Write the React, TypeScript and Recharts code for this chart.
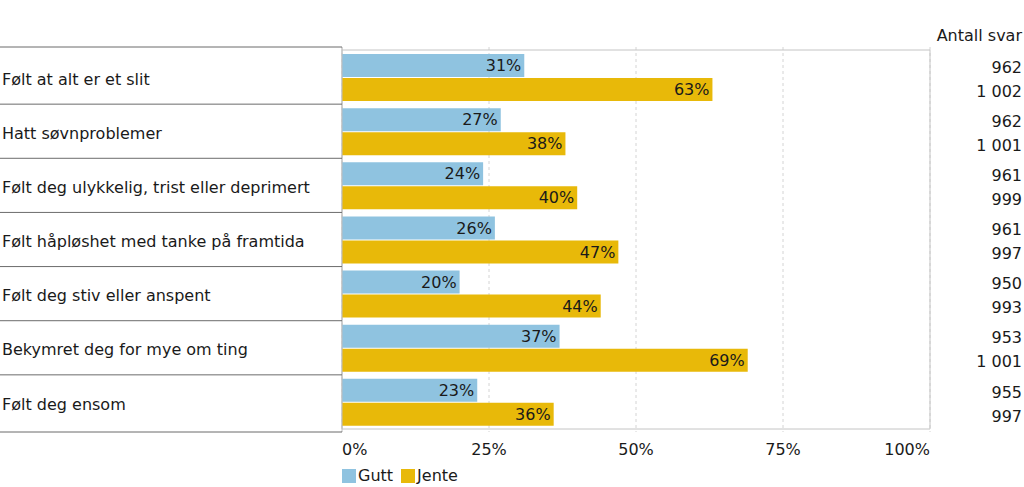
import {
  Bar,
  BarChart,
  CartesianGrid,
  LabelList,
  ReferenceArea,
  XAxis,
  YAxis,
} from "recharts";

const categories = [
  "Følt at alt er et slit",
  "Hatt søvnproblemer",
  "Følt deg ulykkelig, trist eller deprimert",
  "Følt håpløshet med tanke på framtida",
  "Følt deg stiv eller anspent",
  "Bekymret deg for mye om ting",
  "Følt deg ensom",
];
const gutt = [31, 27, 24, 26, 20, 37, 23];
const jente = [63, 38, 40, 47, 44, 69, 36];
const guttSvar = [962, 962, 961, 961, 950, 953, 955];
const jenteSvar = [1002, 1001, 999, 997, 993, 1001, 997];
const xTicks = [0, 25, 50, 75, 100];

const FONT = "'DejaVu Sans', Verdana, sans-serif";
const TEXT = "#1a1a1a";
const BLUE = "#8fc3e0";
const YELLOW = "#e8b909";

const W = 1024;
const H = 487;
const TOP = 47;
const BOTTOM = 55;
const LEFT_W = 342;
const RIGHT_W = 94;
const PAD = 3;
const BAND = (H - TOP - BOTTOM - 2 * PAD) / categories.length;

const data = categories.map((label, i) => ({
  label,
  gutt: gutt[i],
  jente: jente[i],
  guttSvar: guttSvar[i],
  jenteSvar: jenteSvar[i],
}));

const legendItems = [
  { name: "Gutt", color: BLUE },
  { name: "Jente", color: YELLOW },
];

function fmtCount(n: number): string {
  return String(n).replace(/\B(?=(\d{3})+(?!\d))/g, " ");
}

function LeftTick(props: any) {
  const { y, payload, index } = props;
  const n = categories.length;
  const top = index === 0 ? y - BAND / 2 - PAD : null;
  const bottom = index === n - 1 ? y + BAND / 2 + PAD : y + BAND / 2;
  return (
    <g>
      {top !== null && <line x1={0} x2={LEFT_W} y1={top} y2={top} stroke="#6b6b6b" />}
      <line x1={0} x2={LEFT_W} y1={bottom} y2={bottom} stroke="#6b6b6b" />
      <text x={2} y={y + 2} dy="0.35em" fontSize={16} fill={TEXT} fontFamily={FONT}>
        {payload.value}
      </text>
    </g>
  );
}

function RightTick(props: any) {
  const { y, index } = props;
  const row = data[index];
  return (
    <g fontSize={16} fill={TEXT} fontFamily={FONT} textAnchor="end">
      <text x={W - 2} y={y - 10} dy="0.35em">
        {fmtCount(row.guttSvar)}
      </text>
      <text x={W - 2} y={y + 14} dy="0.35em">
        {fmtCount(row.jenteSvar)}
      </text>
    </g>
  );
}

function XTick(props: any) {
  const { x, y, payload, index } = props;
  const anchor = index === 0 ? "start" : index === xTicks.length - 1 ? "end" : "middle";
  return (
    <text x={x} y={y + 4} dy="0.71em" textAnchor={anchor} fontSize={16} fill={TEXT} fontFamily={FONT}>
      {`${payload.value}%`}
    </text>
  );
}

export default function App() {
  return (
    <div style={{ position: "absolute", left: 0, top: 0, width: W, height: H, background: "#fff" }}>
      <div
        style={{
          position: "absolute",
          right: 2,
          top: 26,
          fontFamily: FONT,
          fontSize: 16,
          color: TEXT,
        }}
      >
        Antall svar
      </div>
      <div
        style={{
          position: "absolute",
          left: 342,
          top: 466,
          display: "flex",
          gap: 8,
          fontFamily: FONT,
          fontSize: 16,
          color: TEXT,
          zIndex: 1,
        }}
      >
        {legendItems.map((it) => (
          <div key={it.name} style={{ display: "flex", alignItems: "center", gap: 2 }}>
            <span style={{ width: 14, height: 14, background: it.color, display: "inline-block" }} />
            <span>{it.name}</span>
          </div>
        ))}
      </div>
      <BarChart
        width={W}
        height={H}
        data={data}
        layout="vertical"
        margin={{ top: TOP, right: 0, bottom: 0, left: 0 }}
        barSize={23}
        barGap={1}
      >
        <CartesianGrid horizontal={false} strokeDasharray="3 3" stroke="#d4d4d4" />
        <XAxis
          type="number"
          domain={[0, 100]}
          ticks={xTicks}
          axisLine={false}
          tickLine={false}
          tick={<XTick />}
          height={BOTTOM}
        />
        <YAxis
          yAxisId="left"
          type="category"
          dataKey="label"
          width={LEFT_W}
          interval={0}
          padding={{ top: PAD, bottom: PAD }}
          axisLine={{ stroke: "#bdbdbd" }}
          tickLine={false}
          tick={<LeftTick />}
        />
        <YAxis
          yAxisId="right"
          orientation="right"
          type="category"
          dataKey="label"
          width={RIGHT_W}
          interval={0}
          padding={{ top: PAD, bottom: PAD }}
          axisLine={false}
          tickLine={false}
          tick={<RightTick />}
        />
        <ReferenceArea
          yAxisId="left"
          x1={0}
          x2={100}
          fill="none"
          stroke="#c4c4c4"
          ifOverflow="visible"
        />
        <Bar yAxisId="left" dataKey="gutt" name="Gutt" fill={BLUE} isAnimationActive={false}>
          <LabelList
            dataKey="gutt"
            position="insideRight"
            offset={3}
            formatter={(v: any) => `${v}%`}
            style={{ fontSize: 16, fill: TEXT, fontFamily: FONT }}
          />
        </Bar>
        <Bar yAxisId="left" dataKey="jente" name="Jente" fill={YELLOW} isAnimationActive={false}>
          <LabelList
            dataKey="jente"
            position="insideRight"
            offset={3}
            formatter={(v: any) => `${v}%`}
            style={{ fontSize: 16, fill: TEXT, fontFamily: FONT }}
          />
        </Bar>
      </BarChart>
    </div>
  );
}
